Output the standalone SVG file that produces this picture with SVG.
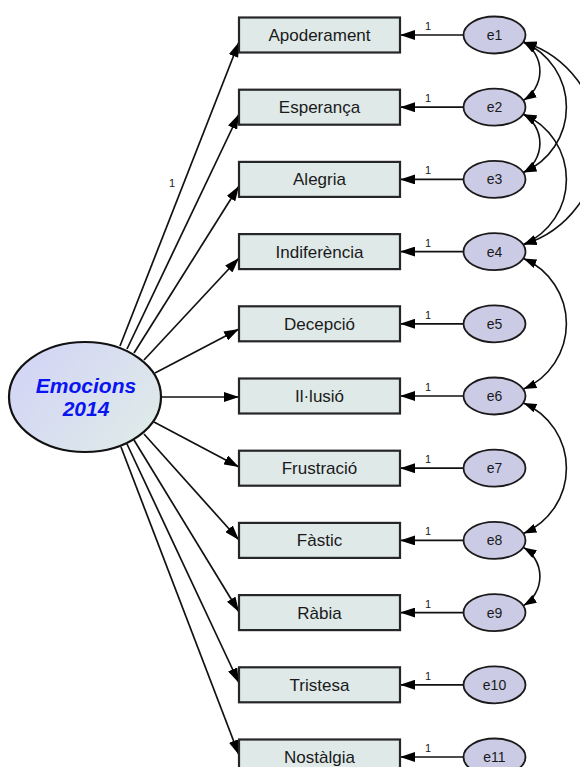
<svg xmlns="http://www.w3.org/2000/svg" width="580" height="767" viewBox="0 0 580 767">
<style>
.box{fill:#dfe9e8;stroke:#262626;stroke-width:2.2}
.err{fill:#cbcbe6;stroke:#1a1a1a;stroke-width:1.8}
.bt{font-family:"Liberation Sans",Arial,sans-serif;font-size:17px;fill:#1a1a1a;text-anchor:middle}
.et{font-family:"Liberation Sans",Arial,sans-serif;font-size:14px;fill:#1a1a1a;text-anchor:middle}
.one{font-family:"Liberation Sans",Arial,sans-serif;font-size:11px;fill:#1a1a1a}
.ln{stroke:#111;stroke-width:1.7;fill:none;marker-end:url(#ah)}
.cv{stroke:#111;stroke-width:1.6;fill:none;marker-start:url(#ah2);marker-end:url(#ah2)}
.lt{font-family:"Liberation Sans",Arial,sans-serif;font-size:21px;font-weight:bold;font-style:italic;fill:#0a14f0;text-anchor:middle}
</style>
<defs>
<marker id="ah" markerUnits="userSpaceOnUse" markerWidth="15" markerHeight="10" refX="15" refY="5" orient="auto"><path d="M0,0 L15,5 L0,10 Z" fill="#000"/></marker>
<marker id="ah2" markerUnits="userSpaceOnUse" markerWidth="13" markerHeight="9" refX="13" refY="4.5" orient="auto-start-reverse"><path d="M0,0 L13,4.5 L0,9 Z" fill="#000"/></marker>
<linearGradient id="lg" x1="0" y1="0.2" x2="1" y2="0.8">
<stop offset="0" stop-color="#d2d4f6"/>
<stop offset="1" stop-color="#dfebe8"/>
</linearGradient>
</defs>
<g id="connectors">
<path class="ln" d="M120,346 L239,42"/>
<path class="ln" d="M127,349 L239,114"/>
<path class="ln" d="M134,353 L239,186"/>
<path class="ln" d="M144,360 L239,258"/>
<path class="ln" d="M155,373 L239,329"/>
<path class="ln" d="M161,397 L239,397"/>
<path class="ln" d="M154,422 L239,467"/>
<path class="ln" d="M144,434 L239,540"/>
<path class="ln" d="M134,440 L239,612"/>
<path class="ln" d="M127,444 L239,683"/>
<path class="ln" d="M121,447 L239,755"/>
<text class="one" x="169" y="187">1</text>
<path class="ln" d="M463,35 L400,35"/>
<path class="ln" d="M463,107.2 L400,107.2"/>
<path class="ln" d="M463,179.4 L400,179.4"/>
<path class="ln" d="M463,251.6 L400,251.6"/>
<path class="ln" d="M463,323.8 L400,323.8"/>
<path class="ln" d="M463,396 L400,396"/>
<path class="ln" d="M463,468.2 L400,468.2"/>
<path class="ln" d="M463,540.4 L400,540.4"/>
<path class="ln" d="M463,612.6 L400,612.6"/>
<path class="ln" d="M463,684.8 L400,684.8"/>
<path class="ln" d="M463,757 L400,757"/>
<text class="one" x="425" y="30">1</text>
<text class="one" x="425" y="102.2">1</text>
<text class="one" x="425" y="174.4">1</text>
<text class="one" x="425" y="246.6">1</text>
<text class="one" x="425" y="318.8">1</text>
<text class="one" x="425" y="391">1</text>
<text class="one" x="425" y="463.2">1</text>
<text class="one" x="425" y="535.4">1</text>
<text class="one" x="425" y="607.6">1</text>
<text class="one" x="425" y="679.8">1</text>
<text class="one" x="425" y="752">1</text>
<path class="cv" d="M523.5,42 A34,34 0 0 1 523.5,100.2"/>
<path class="cv" d="M523.5,114.2 A34,34 0 0 1 523.5,172.4"/>
<path class="cv" d="M523.5,42 A71,71 0 0 1 523.5,172.4"/>
<path class="cv" d="M523.5,114.2 A71,71 0 0 1 523.5,244.6"/>
<path class="cv" d="M523.5,42 A106,106 0 0 1 523.5,244.6"/>
<path class="cv" d="M523.5,258.6 A71,71 0 0 1 523.5,389"/>
<path class="cv" d="M523.5,403 A71,71 0 0 1 523.5,533.4"/>
<path class="cv" d="M523.5,547.4 A34,34 0 0 1 523.5,605.6"/>
</g>
<g id="latent">
<ellipse cx="85" cy="397" rx="76" ry="55" fill="url(#lg)" stroke="#111" stroke-width="2.2"/>
<text class="lt" x="86" y="393">Emocions</text>
<text class="lt" x="86" y="416">2014</text>
</g>
<g id="n1"><rect class="box" x="239" y="17.5" width="161" height="35"/><text class="bt" x="319.5" y="41">Apoderament</text></g>
<g id="n2"><rect class="box" x="239" y="89.7" width="161" height="35"/><text class="bt" x="319.5" y="113.2">Esperança</text></g>
<g id="n3"><rect class="box" x="239" y="161.9" width="161" height="35"/><text class="bt" x="319.5" y="185.4">Alegria</text></g>
<g id="n4"><rect class="box" x="239" y="234.1" width="161" height="35"/><text class="bt" x="319.5" y="257.6">Indiferència</text></g>
<g id="n5"><rect class="box" x="239" y="306.3" width="161" height="35"/><text class="bt" x="319.5" y="329.8">Decepció</text></g>
<g id="n6"><rect class="box" x="239" y="378.5" width="161" height="35"/><text class="bt" x="319.5" y="402">Il·lusió</text></g>
<g id="n7"><rect class="box" x="239" y="450.7" width="161" height="35"/><text class="bt" x="319.5" y="474.2">Frustració</text></g>
<g id="n8"><rect class="box" x="239" y="522.9" width="161" height="35"/><text class="bt" x="319.5" y="546.4">Fàstic</text></g>
<g id="n9"><rect class="box" x="239" y="595.1" width="161" height="35"/><text class="bt" x="319.5" y="618.6">Ràbia</text></g>
<g id="n10"><rect class="box" x="239" y="667.3" width="161" height="35"/><text class="bt" x="319.5" y="690.8">Tristesa</text></g>
<g id="n11"><rect class="box" x="239" y="739.5" width="161" height="35"/><text class="bt" x="319.5" y="763">Nostàlgia</text></g>
<g id="e1"><ellipse class="err" cx="494.5" cy="35" rx="31" ry="18.5"/><text class="et" x="494.5" y="40">e1</text></g>
<g id="e2"><ellipse class="err" cx="494.5" cy="107.2" rx="31" ry="18.5"/><text class="et" x="494.5" y="112.2">e2</text></g>
<g id="e3"><ellipse class="err" cx="494.5" cy="179.4" rx="31" ry="18.5"/><text class="et" x="494.5" y="184.4">e3</text></g>
<g id="e4"><ellipse class="err" cx="494.5" cy="251.6" rx="31" ry="18.5"/><text class="et" x="494.5" y="256.6">e4</text></g>
<g id="e5"><ellipse class="err" cx="494.5" cy="323.8" rx="31" ry="18.5"/><text class="et" x="494.5" y="328.8">e5</text></g>
<g id="e6"><ellipse class="err" cx="494.5" cy="396" rx="31" ry="18.5"/><text class="et" x="494.5" y="401">e6</text></g>
<g id="e7"><ellipse class="err" cx="494.5" cy="468.2" rx="31" ry="18.5"/><text class="et" x="494.5" y="473.2">e7</text></g>
<g id="e8"><ellipse class="err" cx="494.5" cy="540.4" rx="31" ry="18.5"/><text class="et" x="494.5" y="545.4">e8</text></g>
<g id="e9"><ellipse class="err" cx="494.5" cy="612.6" rx="31" ry="18.5"/><text class="et" x="494.5" y="617.6">e9</text></g>
<g id="e10"><ellipse class="err" cx="494.5" cy="684.8" rx="31" ry="18.5"/><text class="et" x="494.5" y="689.8">e10</text></g>
<g id="e11"><ellipse class="err" cx="494.5" cy="757" rx="31" ry="18.5"/><text class="et" x="494.5" y="762">e11</text></g>
</svg>
